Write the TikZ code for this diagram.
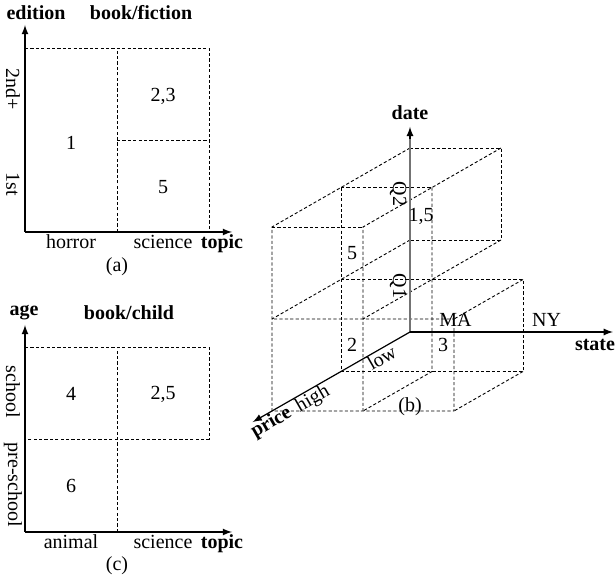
\documentclass[tikz,border=0pt]{standalone}
\usepackage{fontspec}
\setmainfont{Liberation Serif}
\begin{document}
\begin{tikzpicture}[x=0.5pt,y=0.5pt,
  font=\fontsize{10}{12}\selectfont,
  arr/.style={-latex,line width=0.6pt},
  cellline/.style={line width=0.45pt,dash pattern=on 1.6pt off 1.1pt},
  head/.style={font=\fontsize{10}{12}\selectfont\bfseries},
  vlab/.style={rotate=-90},
  slab/.style={rotate=30,anchor=north,inner sep=0.3pt}]

\useasboundingbox (0,0) rectangle (616,581);

\draw[cellline] (25,533) -- (209,533) -- (209,349);
\draw[cellline] (117,349) -- (117,533);
\draw[cellline] (117,441) -- (209,441);

\draw[arr] (25,349) -- (232,349);
\draw[arr] (25,349) -- (25,556);

\node[head] (edA) at (36,568) {edition};
\node[head] (titA) at (141,568) {book/fiction};
\node[vlab] (secA) at (13,492) {2nd+};
\node[vlab] (firA) at (13,397) {1st};
\node (horA) at (71,339) {horror};
\node (sciA) at (163,339) {science};
\node[head] (topA) at (222,337) {topic};
\node (capA) at (117,314) {(a)};
\node (vA1) at (71,438) {1};
\node (vA23) at (163,485) {2,3};
\node (vA5) at (163,394) {5};


\draw[cellline] (25,234) -- (209,234) -- (209,142) -- (25,142);
\draw[cellline] (117,49) -- (117,234);

\draw[arr] (25,49) -- (232,49);
\draw[arr] (25,49) -- (25,256);

\node[head] (ageC) at (24,268) {age};
\node[head] (titC) at (129,268) {book/child};
\node[vlab] (schC) at (13,189) {school};
\node[vlab] (preC) at (13,96) {pre-school};
\node (aniC) at (71,39) {animal};
\node (sciC) at (163,39) {science};
\node[head] (topC) at (222,37) {topic};
\node (capC) at (117,15) {(c)};
\node (vC4) at (71,187) {4};
\node (vC25) at (163,187) {2,5};
\node (vC6) at (71,95) {6};


\begin{scope}[shift={(205pt,124.5pt)},x={(45.5pt,0pt)},y={(0pt,46pt)},z={(-34.5pt,-19.75pt)}]

\draw[cellline] (0,2,0) -- (1,2,0) -- (1,1,0) -- (0,1,0);
\draw[cellline] (0,2,1) -- (1,2,1);
\draw[cellline] (0,2,2) -- (1,2,2);
\draw[cellline] (0,2,0) -- (0,2,2) -- (0,0,2) -- (2,0,2) -- (2,1,2) -- (0,1,2);
\draw[cellline] (1,2,0) -- (1,2,2) -- (1,0,2);
\draw[cellline] (0,1,0) -- (0,1,2);
\draw[cellline] (1,1,0) -- (1,1,2);
\draw[cellline] (0,2,1) -- (0,0,1) -- (2,0,1) -- (2,1,1) -- (0,1,1);
\draw[cellline] (1,2,1) -- (1,0,1) -- (1,0,2);
\draw[cellline] (2,1,1) -- (2,1,2);
\draw[cellline] (2,0,1) -- (2,0,2);

\coordinate (O) at (0,0,0);
\coordinate (dateEnd) at (0,2.23,0);
\coordinate (dateTip) at (0,2.1,0);
\coordinate (stateEnd) at (2.23,0,0);
\coordinate (priceEnd) at (0,0,2.28);

\draw[black!55,line width=0.6pt] (O) -- (dateTip);
\draw[arr] (dateTip) -- (dateEnd);
\draw[arr] (O) -- (stateEnd);
\draw[arr] (O) -- (priceEnd);

\node (vB15) at (0.5,1.47,0.5) {1,5};
\node (vB5) at (0.5,1.5,1.5) {5};
\node (vB2) at (0.5,0.5,1.5) {2};
\node (vB3) at (1.5,0.5,1.5) {3};
\node (ma) at (0.5,0.13,0) {MA};
\node (ny) at (1.5,0.13,0) {NY};
\node[vlab] (q2) at (-0.13,1.5,0) {Q2};
\node[vlab] (q1) at (-0.13,0.5,0) {Q1};

\node[slab] (low) at (0,0,0.47) {low};
\node[slab] (high) at (0,0,1.48) {high};
\node[slab,head] (price) at (0,0,2.08) {price};

\end{scope}

\node[head] (date) at (410,468) {date};
\node[head] (state) at (595,236) {state};
\node (capB) at (410,174) {(b)};

\end{tikzpicture}
\end{document}
